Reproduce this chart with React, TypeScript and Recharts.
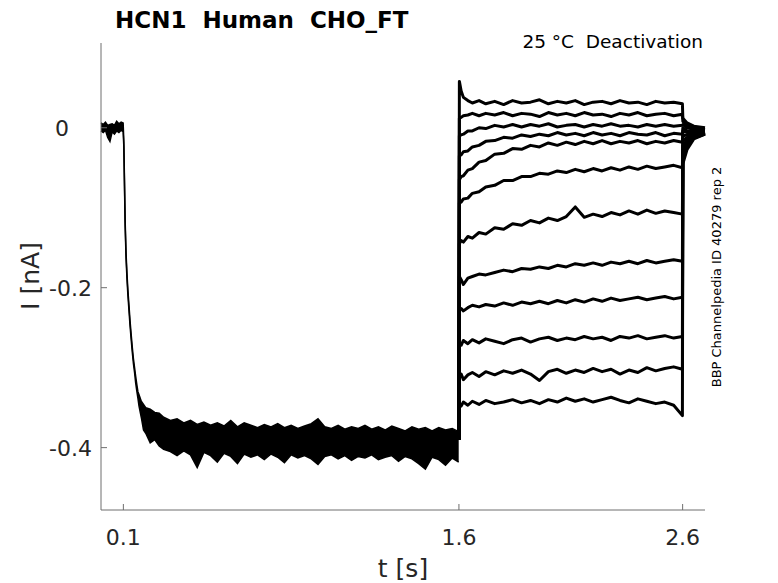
import {ComposedChart, Area, Line, XAxis, YAxis} from 'recharts'

// activation step, many sweeps overlapping: drawn as an envelope band
const actT = [0, 0.01, 0.02, 0.03, 0.04, 0.05, 0.06, 0.07, 0.08, 0.09, 0.099,
    0.102, 0.105, 0.108, 0.112, 0.116, 0.12, 0.125, 0.13, 0.135, 0.14, 0.145, 0.15, 0.155, 0.16, 0.165, 0.17,
    0.18, 0.19, 0.2, 0.22, 0.24, 0.26,
    0.28, 0.31, 0.34, 0.37, 0.4, 0.43, 0.46, 0.49, 0.52, 0.55, 0.58, 0.61, 0.64, 0.67, 0.7, 0.73, 0.76, 0.79, 0.82, 0.85,
    0.88, 0.91, 0.94, 0.97, 1.0, 1.03, 1.06, 1.09, 1.12, 1.15, 1.18, 1.21, 1.24, 1.27, 1.3, 1.33, 1.36, 1.39, 1.42, 1.45,
    1.48, 1.51, 1.54, 1.57, 1.599]
const actHigh = [0.006, 0.004, 0.007, 0.003, 0.004, 0.005, 0.003, 0.008, 0.005, 0.007, 0.006,
    -0.017, -0.067, -0.117, -0.157, -0.182, -0.202, -0.222, -0.242, -0.259, -0.275, -0.289, -0.3, -0.311, -0.321, -0.33, -0.334,
    -0.342, -0.346, -0.35, -0.352, -0.356, -0.357,
    -0.362, -0.366, -0.364, -0.369, -0.366, -0.371, -0.368, -0.372, -0.369, -0.373, -0.366, -0.374, -0.369, -0.372, -0.375,
    -0.371, -0.374, -0.37, -0.375, -0.372, -0.376, -0.373, -0.37, -0.364, -0.374, -0.376, -0.372, -0.377, -0.374, -0.376,
    -0.372, -0.377, -0.374, -0.378, -0.373, -0.376, -0.379, -0.374, -0.377, -0.375, -0.379, -0.375, -0.378, -0.376, -0.38]
const actLow = [-0.004, -0.006, -0.003, -0.012, -0.017, -0.005, -0.008, -0.004, -0.006, -0.003, -0.005,
    -0.023, -0.073, -0.123, -0.163, -0.188, -0.208, -0.228, -0.248, -0.265, -0.281, -0.295, -0.306, -0.319, -0.329, -0.338, -0.348,
    -0.362, -0.378, -0.382, -0.394, -0.39, -0.398,
    -0.402, -0.405, -0.41, -0.404, -0.409, -0.425, -0.406, -0.41, -0.418, -0.407, -0.411, -0.42, -0.408, -0.412, -0.409,
    -0.415, -0.408, -0.412, -0.419, -0.409, -0.413, -0.41, -0.414, -0.421, -0.411, -0.409, -0.414, -0.41, -0.416, -0.411,
    -0.413, -0.409, -0.415, -0.412, -0.41, -0.417, -0.411, -0.414, -0.42, -0.427, -0.412, -0.415, -0.422, -0.413, -0.418]

// deactivation sweeps
const deactT = [1.6, 1.602, 1.61, 1.62, 1.64, 1.66, 1.69, 1.72, 1.76, 1.8, 1.84, 1.88, 1.92, 1.96, 2.0, 2.04, 2.08,
    2.12, 2.16, 2.2, 2.24, 2.28, 2.32, 2.36, 2.4, 2.44, 2.48, 2.52, 2.56, 2.599, 2.601, 2.62, 2.65, 2.7]

const sweep1 = [-0.39, 0.058, 0.046, 0.038, 0.034, 0.031, 0.034, 0.03, 0.033, 0.029, 0.034, 0.031, 0.032, 0.035, 0.03, 0.033,
    0.031, 0.034, 0.029, 0.032, 0.033, 0.03, 0.034, 0.031, 0.032, 0.029, 0.033, 0.031, 0.032, 0.03, 0.012, 0.006, 0.002, 0.0]
const sweep2 = [-0.39, 0.012, 0.013, 0.015, 0.016, 0.018, 0.015, 0.018, 0.016, 0.019, 0.015, 0.018, 0.017, 0.014, 0.019, 0.016,
    0.018, 0.015, 0.019, 0.016, 0.017, 0.014, 0.018, 0.016, 0.019, 0.015, 0.017, 0.018, 0.015, 0.017, 0.008, 0.003, 0.0, -0.002]
const sweep3 = [-0.39, -0.01, -0.009, -0.008, -0.004, -0.004, 0.0, -0.001, 0.003, 0.001, 0.004, 0.001, 0.004, 0.002, 0.005, 0.001,
    0.003, 0.004, 0.001, 0.004, 0.002, 0.005, 0.002, 0.003, 0.001, 0.004, 0.002, 0.004, 0.002, 0.003, 0.004, 0.0, -0.002, -0.003]
const sweep4 = [-0.39, -0.035, -0.034, -0.03, -0.029, -0.024, -0.022, -0.017, -0.016, -0.012, -0.013, -0.009, -0.011, -0.008, -0.01,
    -0.006, -0.009, -0.007, -0.01, -0.006, -0.009, -0.007, -0.01, -0.006, -0.008, -0.009, -0.006, -0.01, -0.007, -0.008,
    0.0, -0.004, -0.004, -0.004]
const sweep5 = [-0.39, -0.065, -0.061, -0.06, -0.053, -0.051, -0.043, -0.041, -0.033, -0.032, -0.026, -0.027, -0.022, -0.024, -0.019,
    -0.022, -0.018, -0.021, -0.017, -0.02, -0.016, -0.02, -0.017, -0.019, -0.016, -0.02, -0.017, -0.019, -0.016, -0.018,
    -0.004, -0.006, -0.005, -0.004]
const sweep6 = [-0.39, -0.094, -0.093, -0.089, -0.088, -0.082, -0.08, -0.074, -0.072, -0.066, -0.066, -0.061, -0.061, -0.057, -0.058,
    -0.054, -0.056, -0.052, -0.055, -0.051, -0.054, -0.05, -0.053, -0.049, -0.052, -0.048, -0.051, -0.049, -0.047, -0.05,
    -0.01, -0.009, -0.006, -0.005]
const sweep7 = [-0.39, -0.145, -0.141, -0.143, -0.136, -0.138, -0.131, -0.133, -0.125, -0.127, -0.12, -0.122, -0.116, -0.119, -0.113,
    -0.116, -0.111, -0.099, -0.112, -0.108, -0.111, -0.106, -0.109, -0.104, -0.108, -0.103, -0.107, -0.104, -0.106, -0.108,
    -0.016, -0.012, -0.008, -0.006]
const sweep8 = [-0.39, -0.186, -0.19, -0.196, -0.188, -0.186, -0.183, -0.184, -0.181, -0.178, -0.18, -0.176, -0.177, -0.174, -0.176,
    -0.172, -0.174, -0.17, -0.172, -0.169, -0.172, -0.168, -0.17, -0.167, -0.17, -0.166, -0.169, -0.167, -0.165, -0.167,
    -0.022, -0.015, -0.009, -0.006]
const sweep9 = [-0.39, -0.228, -0.226, -0.229, -0.225, -0.222, -0.224, -0.221, -0.223, -0.219, -0.222, -0.218, -0.22, -0.217, -0.22,
    -0.216, -0.219, -0.215, -0.218, -0.214, -0.217, -0.213, -0.216, -0.214, -0.212, -0.215, -0.213, -0.211, -0.214, -0.212,
    -0.028, -0.018, -0.01, -0.007]
const sweep10 = [-0.39, -0.268, -0.272, -0.266, -0.27, -0.265, -0.269, -0.264, -0.267, -0.27, -0.265, -0.263, -0.268, -0.264, -0.262,
    -0.266, -0.263, -0.265, -0.261, -0.264, -0.262, -0.266, -0.261, -0.263, -0.26, -0.264, -0.262, -0.26, -0.263, -0.261,
    -0.034, -0.021, -0.012, -0.007]
const sweep11 = [-0.39, -0.312, -0.308, -0.315, -0.309, -0.306, -0.311, -0.305, -0.309, -0.304, -0.307, -0.303, -0.308, -0.316, -0.305,
    -0.302, -0.307, -0.303, -0.306, -0.301, -0.305, -0.302, -0.308, -0.303, -0.306, -0.3, -0.304, -0.301, -0.299, -0.302,
    -0.04, -0.024, -0.013, -0.008]
const sweep12 = [-0.39, -0.345, -0.348, -0.343, -0.347, -0.342, -0.346, -0.341, -0.345, -0.343, -0.34, -0.344, -0.341, -0.345, -0.34,
    -0.343, -0.338, -0.342, -0.339, -0.343, -0.34, -0.337, -0.341, -0.344, -0.339, -0.342, -0.345, -0.343, -0.347, -0.36,
    -0.045, -0.027, -0.014, -0.008]

const sweeps = [sweep1, sweep2, sweep3, sweep4, sweep5, sweep6, sweep7, sweep8, sweep9, sweep10, sweep11, sweep12]

const xTicks = [0.1, 1.6, 2.6]
const xTickLabels = ['0.1', '1.6', '2.6']
const yTicks = [-0.4, -0.2, 0]
const yTickLabels = ['-0.4', '-0.2', '0']

const font = 'DejaVu Sans'
const axisColor = '#6e6e6e'
const textColor = '#262626'

const actRows = actT.map((t, i) => ({t, band: [actLow[i], actHigh[i]]}))
const sweepRows = sweeps.map(s => deactT.map((t, i) => ({t, v: s[i]})))

function XTick(props: any) {
    const {x, y, payload} = props
    const label = xTickLabels[xTicks.indexOf(payload.value)]
    return (
        <g>
            <line x1={x} x2={x} y1={y} y2={y - 6} stroke={axisColor} />
            <text x={x} y={y + 35} textAnchor="middle" fontSize={22} fill={textColor} fontFamily={font}>{label}</text>
        </g>
    )
}

function YTick(props: any) {
    const {x, y, payload} = props
    const label = yTickLabels[yTicks.indexOf(payload.value)]
    // matlab puts the lone "0" further left
    const tx = label === '0' ? x - 32 : x - 9
    return (
        <g>
            <line x1={x} x2={x + 6} y1={y} y2={y} stroke={axisColor} />
            <text x={tx} y={y + 8} textAnchor="end" fontSize={22} fill={textColor} fontFamily={font}>{label}</text>
        </g>
    )
}

function App() {
    return (
        <div style={{position: 'absolute', left: 0, top: 0, width: 778, height: 583, background: '#fff'}}>
            <ComposedChart width={778} height={583} data={actRows} margin={{top: 43, right: 73, bottom: 20, left: 0}}>
                <XAxis type="number" dataKey="t" domain={[0, 2.7]} ticks={xTicks} tick={<XTick />}
                       tickSize={0} tickMargin={0} height={53} stroke={axisColor} interval={0} />
                <YAxis type="number" domain={[-0.478, 0.106]} ticks={yTicks} tick={<YTick />}
                       tickSize={0} tickMargin={0} width={101} stroke={axisColor} interval={0} />
                <Area type="linear" dataKey="band" fill="#000" fillOpacity={1} stroke="#000" strokeWidth={1.5}
                      isAnimationActive={false} />
                {sweepRows.map((rows, i) => (
                    <Line key={i} data={rows} type="linear" dataKey="v" stroke="#000" strokeWidth={3}
                          strokeLinejoin="round" dot={false} isAnimationActive={false} />
                ))}
            </ComposedChart>
            <svg width={778} height={583} style={{position: 'absolute', left: 0, top: 0, pointerEvents: 'none'}}>
                <text x={115} y={28} fontSize={23} fontWeight="bold" fill="#000" fontFamily={font}
                      style={{whiteSpace: 'pre'}}>HCN1  Human  CHO_FT</text>
                <text x={703} y={48} fontSize={18.5} textAnchor="end" fill="#000" fontFamily={font}
                      style={{whiteSpace: 'pre'}}>25 °C  Deactivation</text>
                <text x={403} y={577} fontSize={25} textAnchor="middle" fill={textColor} fontFamily={font}>t [s]</text>
                <text transform="translate(39,276) rotate(-90)" fontSize={25} textAnchor="middle" fill={textColor}
                      fontFamily={font}>I [nA]</text>
                <text transform="translate(721,277) rotate(-90)" fontSize={13} textAnchor="middle" fill="#000"
                      fontFamily={font}>BBP Channelpedia ID 40279 rep 2</text>
            </svg>
        </div>
    )
}

export default App;
